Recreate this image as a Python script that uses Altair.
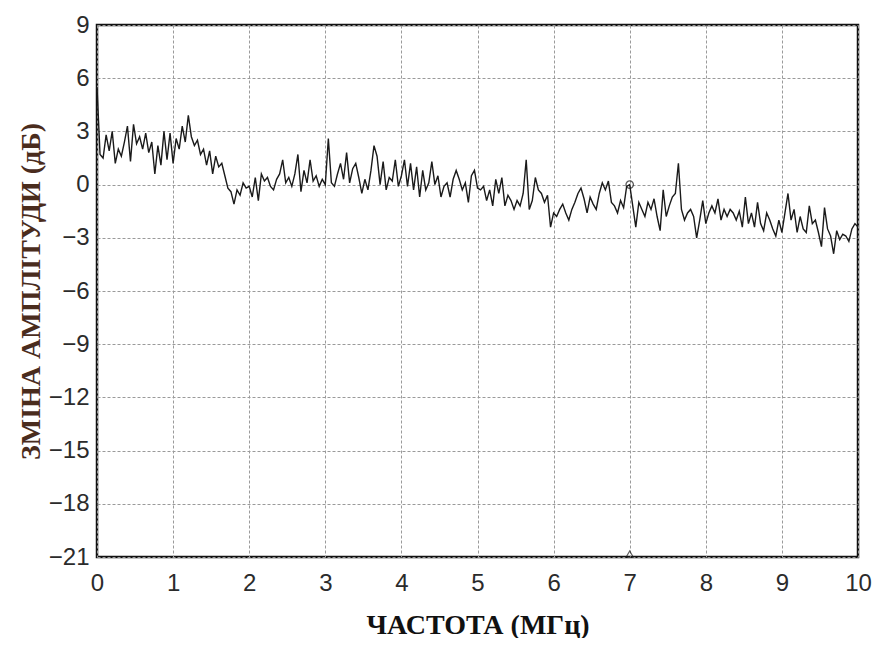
import altair as alt
import pandas as pd

db_0_2 = [5.5, 1.7, 1.5, 2.8, 1.9, 3.0, 1.2, 2.0, 1.6, 2.4,
          3.3, 1.3, 3.4, 2.3, 2.7, 2.0, 2.9, 1.8, 2.4, 0.6,
          2.2, 1.1, 3.0, 1.4, 2.9, 1.2, 2.6, 2.0, 3.3, 2.4,
          3.9, 2.7, 2.2, 2.5, 1.7, 2.0, 1.1, 1.9, 0.6, 1.6,
          1.0, 1.2, 0.5, -0.2, -0.4, -1.1, -0.3, -0.6, 0.1, -0.2]
db_2_4 = [-0.1, -0.7, 0.4, -0.9, 0.6, 0.2, 0.4, -0.1, -0.3, 0.3,
          0.6, 1.4, 0.1, 0.4, -0.1, 0.6, 1.7, -0.4, 0.8, 0.1,
          1.4, 0.2, 0.5, -0.1, 0.3, 0.0, 2.6, 0.1, -0.1, 0.6,
          1.2, 0.3, 1.8, 0.1, 0.9, 1.2, 0.4, -0.5, 0.3, -0.3,
          0.8, 2.2, 1.6, 0.0, 1.3, -0.3, 0.4, 0.2, 1.4, -0.1]
db_4_6 = [0.5, 1.4, -0.1, 1.2, -0.3, 1.0, -0.7, 0.8, -0.3, 0.1,
          1.3, 0.0, 0.5, -0.7, -0.1, 0.1, -0.7, 0.3, 0.8, 0.3,
          -0.3, 0.1, -1.0, 0.5, 0.8, -0.2, -0.3, -0.1, -0.9, -0.3,
          -1.2, 0.3, -0.5, 0.4, -1.2, -0.6, -0.9, -1.4, -0.9, -1.2,
          -0.5, 1.4, -1.4, -0.9, 0.4, -0.3, -0.5, -1.0, -0.6, -2.4,
          -1.6]
db_6_8 = [-1.8, -1.4, -1.1, -1.6, -2.0, -1.4, -1.0, -0.5, -0.2, -0.8,
          -1.6, -0.7, -1.1, -1.4, -0.5, 0.1, -0.3, 0.2, -1.0, -1.2,
          -1.6, -0.9, -1.3, -0.1, 0.0, -1.2, -2.4, -1.0, -1.4, -1.8,
          -1.0, -1.4, -0.8, -1.8, -2.6, -0.3, -1.8, -1.2, -0.7, -0.5,
          1.2, -1.4, -2.0, -1.6, -1.4, -1.8, -3.0, -2.0, -0.9]
db_8_10 = [-2.2, -1.6, -1.2, -1.6, -0.8, -2.0, -1.4, -1.8, -1.4, -1.6,
           -2.0, -1.5, -2.4, -0.7, -2.2, -1.6, -2.4, -1.0, -2.2, -2.6,
           -1.6, -2.0, -2.5, -2.9, -2.0, -2.7, -1.6, -0.5, -2.0, -1.4,
           -2.7, -1.8, -2.5, -2.7, -1.2, -2.2, -2.0, -2.7, -3.5, -1.3,
           -2.5, -2.9, -3.9, -2.6, -3.1, -2.8, -2.9, -3.2, -2.5, -2.2,
           -2.4]

db = db_0_2 + db_2_4 + db_4_6 + db_6_8 + db_8_10
step_mhz = 0.04
freq = [round(i * step_mhz, 2) for i in range(len(db))]

marker_circle_x = [7.0]
marker_circle_y = [0.0]
marker_tri_x = [7.0]
marker_tri_y = [-21.0]

x_ticks = list(range(0, 11))
y_ticks = list(range(-21, 10, 3))

df = pd.DataFrame({"f": freq, "db": db})
dfc = pd.DataFrame({"f": marker_circle_x, "db": marker_circle_y})
dft = pd.DataFrame({"f": marker_tri_x, "db": marker_tri_y})

x_enc = alt.X("f:Q", scale=alt.Scale(domain=[0, 10], nice=False),
              axis=alt.Axis(values=x_ticks, title="ЧАСТОТА (МГц)", format="d",
                            labelPadding=14, titlePadding=16,
                            labelFlush=False, labelOverlap=False))
y_enc = alt.Y("db:Q", scale=alt.Scale(domain=[-21, 9], nice=False),
              axis=alt.Axis(values=y_ticks, title="ЗМІНА АМПЛІТУДИ (дБ)", format="d",
                            labelPadding=8, titlePadding=3,
                            labelFlush=False, labelOverlap=False))

line = alt.Chart(df).mark_line(color="#1a1a1a", strokeWidth=1.4).encode(x=x_enc, y=y_enc)
circ = alt.Chart(dfc).mark_point(shape="circle", filled=False, color="#1a1a1a",
                                 size=55, strokeWidth=1.3).encode(x="f:Q", y="db:Q")
tri = alt.Chart(dft).mark_point(shape="triangle-up", filled=False, color="#1a1a1a",
                                size=50, strokeWidth=1.2, yOffset=-3).encode(x="f:Q", y="db:Q")

chart = alt.layer(line, circ, tri).properties(
    width=761, height=532,
    autosize=alt.AutoSizeParams(type="none"),
    padding={"left": 89, "top": 17, "right": 14, "bottom": 81},
    background="white",
).configure_view(
    stroke="#111111", strokeWidth=2.5
).configure_axis(
    domain=False, ticks=False,
    grid=True, gridColor="#9a9a9a", gridDash=[3, 2], gridWidth=1,
    labelFont="Liberation Sans", labelFontSize=24, labelColor="#2b2b2b",
    titleFont="Liberation Serif", titleFontWeight="bold", titleFontSize=28,
).configure_axisX(
    titleColor="#111111", labelBaseline="top"
).configure_axisY(
    titleColor="#4a2c1d", labelAlign="right", labelBaseline="middle"
)

chart.save("out.html", embed_options={"renderer": "svg", "actions": False})
